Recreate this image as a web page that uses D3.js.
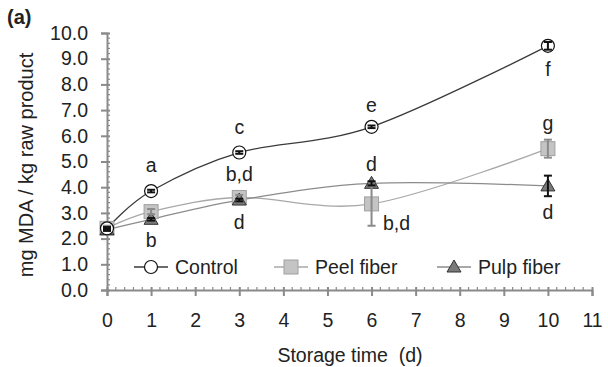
<!DOCTYPE html>
<html>
<head>
<meta charset="utf-8">
<script src="https://cdn.jsdelivr.net/npm/d3@7"></script>
<style>
  html, body { margin: 0; padding: 0; background: #fff; }
  svg { display: block; }
  text { font-family: "Liberation Sans", Arial, sans-serif; fill: #222; }
</style>
</head>
<body>
<svg id="chart" width="608" height="367"></svg>
<script>
// Storage days and MDA values (mg MDA / kg raw product)
const days = [0, 1, 3, 6, 10];
const control = [2.4, 3.85, 5.35, 6.35, 9.5];
const peel = [2.4, 3.05, 3.6, 3.35, 5.5];
const pulp = [2.35, 2.75, 3.5, 4.15, 4.05];
const controlErr = [0.05, 0.05, 0.05, 0.05, 0.15];
const peelErr = [0.1, 0.1, 0.1, 0.85, 0.35];
const pulpErr = [0.05, 0.05, 0.05, 0.08, 0.4];

// Significance letters per series and day
const controlLetters = ["", "a", "c", "e", "f"];
const peelLetters = ["", "", "b,d", "b,d", "g"];
const pulpLetters = ["", "b", "d", "d", "d"];

const xTicks = [0, 1, 2, 3, 4, 5, 6, 7, 8, 9, 10, 11];
const yTicks = [0, 1, 2, 3, 4, 5, 6, 7, 8, 9, 10];
const seriesNames = ["Control", "Peel fiber", "Pulp fiber"];

const FS = 19.5;
const svg = d3.select("#chart");
const x = d3.scaleLinear().domain([0, 11]).range([107, 592]);
const y = d3.scaleLinear().domain([0, 10]).range([290, 33]);
const axisColor = "#8a8a8a";

// Minor ticks
const g = svg.append("g");
const minorX = d3.range(0, 11.001, 0.2).filter(v => Math.abs(v - Math.round(v)) > 1e-6);
g.selectAll(".mx").data(minorX).join("line")
  .attr("x1", d => x(d)).attr("x2", d => x(d))
  .attr("y1", y(0) - 3).attr("y2", y(0))
  .attr("stroke", axisColor).attr("stroke-width", 1.2);
const minorY = d3.range(0, 10.001, 0.2).filter(v => Math.abs(v - Math.round(v)) > 1e-6);
g.selectAll(".my").data(minorY).join("line")
  .attr("x1", x(0)).attr("x2", x(0) + 3)
  .attr("y1", d => y(d)).attr("y2", d => y(d))
  .attr("stroke", axisColor).attr("stroke-width", 1.2);

// Axes
const xAxis = svg.append("g").attr("transform", `translate(0,${y(0)})`)
  .call(d3.axisBottom(x).tickValues(xTicks).tickFormat(d3.format("d")).tickSize(6).tickPadding(17));
const yAxis = svg.append("g").attr("transform", `translate(${x(0)},0)`)
  .call(d3.axisLeft(y).tickValues(yTicks).tickFormat(d3.format(".1f")).tickSize(6).tickPadding(13));
[xAxis, yAxis].forEach(a => {
  a.select(".domain").attr("stroke", axisColor).attr("stroke-width", 2);
  a.selectAll(".tick line").attr("stroke", axisColor).attr("stroke-width", 2);
  a.selectAll(".tick text").attr("font-size", FS).attr("fill", "#222")
    .attr("font-family", "Liberation Sans, Arial, sans-serif");
});
xAxis.selectAll(".tick line").attr("y1", -3);
yAxis.selectAll(".tick line").attr("x1", 3).attr("x2", -6);

// Axis titles
svg.append("text").attr("x", 350).attr("y", 362).attr("text-anchor", "middle")
  .attr("font-size", FS).style("white-space", "pre").text("Storage time  (d)");
svg.append("text").attr("transform", "translate(33,165) rotate(-90)")
  .attr("text-anchor", "middle").attr("font-size", 20).text("mg MDA / kg raw product");
svg.append("text").attr("x", 7).attr("y", 24)
  .attr("font-family", "Liberation Serif, Times New Roman, serif")
  .attr("font-weight", "bold").attr("font-size", 20).text("(a)");

const series = [
  { vals: control, err: controlErr, letters: controlLetters, line: "#3a3a3a", fill: "#fff", stroke: "#111", errColor: "#111", shape: "circle" },
  { vals: peel, err: peelErr, letters: peelLetters, line: "#a8a8a8", fill: "#c4c4c4", stroke: "#a0a0a0", errColor: "#8a8a8a", shape: "square" },
  { vals: pulp, err: pulpErr, letters: pulpLetters, line: "#8c8c8c", fill: "#7a7a7a", stroke: "#333", errColor: "#111", shape: "triangle" }
];

const line = d3.line().x((d, i) => x(days[i])).y(d => y(d)).curve(d3.curveCardinal.tension(0));

// Smoothed lines
series.forEach(s => {
  svg.append("path").datum(s.vals).attr("d", line)
    .attr("fill", "none").attr("stroke", s.line).attr("stroke-width", 1.3);
});

function marker(sel, shape, fill, stroke) {
  if (shape === "circle") {
    sel.append("circle").attr("r", 6.5).attr("fill", fill).attr("stroke", stroke).attr("stroke-width", 1.2);
  } else if (shape === "square") {
    sel.append("rect").attr("x", -7).attr("y", -7).attr("width", 14).attr("height", 14)
      .attr("fill", fill).attr("stroke", stroke).attr("stroke-width", 1);
  } else {
    sel.append("path").attr("d", "M0,-7 L7,5 L-7,5 Z")
      .attr("fill", fill).attr("stroke", stroke).attr("stroke-width", 1);
  }
}

// Markers drawn peel first, then pulp and control, then error bars
[1, 2, 0].forEach(k => {
  const s = series[k];
  s.vals.forEach((v, i) => {
    const gm = svg.append("g").attr("transform", `translate(${x(days[i])},${y(v)})`);
    marker(gm, s.shape, s.fill, s.stroke);
  });
});
[1, 2, 0].forEach(k => {
  const s = series[k];
  s.vals.forEach((v, i) => {
    const cx = x(days[i]), top = y(v + s.err[i]), bot = y(v - s.err[i]);
    const eb = svg.append("g").attr("stroke", s.errColor).attr("stroke-width", 2);
    eb.append("line").attr("x1", cx).attr("x2", cx).attr("y1", top).attr("y2", bot);
    eb.append("line").attr("x1", cx - 4).attr("x2", cx + 4).attr("y1", top).attr("y2", top);
    eb.append("line").attr("x1", cx - 4).attr("x2", cx + 4).attr("y1", bot).attr("y2", bot);
  });
});

// Significance letters
const letterAt = [
  { k: 0, i: 1, dx: 0, dy: -26 }, { k: 0, i: 2, dx: 0, dy: -25 }, { k: 0, i: 3, dx: 0, dy: -22 }, { k: 0, i: 4, dx: 0, dy: 23 },
  { k: 1, i: 2, dx: 0, dy: -23 }, { k: 1, i: 3, dx: 25, dy: 19 }, { k: 1, i: 4, dx: 0, dy: -25 },
  { k: 2, i: 1, dx: 0, dy: 21 }, { k: 2, i: 2, dx: 0, dy: 22 }, { k: 2, i: 3, dx: 0, dy: -19 }, { k: 2, i: 4, dx: 0, dy: 26 }
];
letterAt.forEach(p => {
  const s = series[p.k];
  svg.append("text")
    .attr("x", x(days[p.i]) + p.dx).attr("y", y(s.vals[p.i]) + p.dy)
    .attr("dy", "0.35em").attr("text-anchor", "middle").attr("font-size", FS)
    .text(s.letters[p.i]);
});

// Legend
const legX = [134, 274, 437];
series.forEach((s, k) => {
  const lg = svg.append("g").attr("transform", `translate(${legX[k]},267)`);
  lg.append("line").attr("x1", 0).attr("x2", 34).attr("stroke", s.line).attr("stroke-width", 1.3);
  const gm = lg.append("g").attr("transform", "translate(17,0)");
  marker(gm, s.shape, s.fill, s.stroke);
  lg.append("text").attr("x", 41).attr("dy", "0.35em").attr("font-size", FS).text(seriesNames[k]);
});
</script>
</body>
</html>
